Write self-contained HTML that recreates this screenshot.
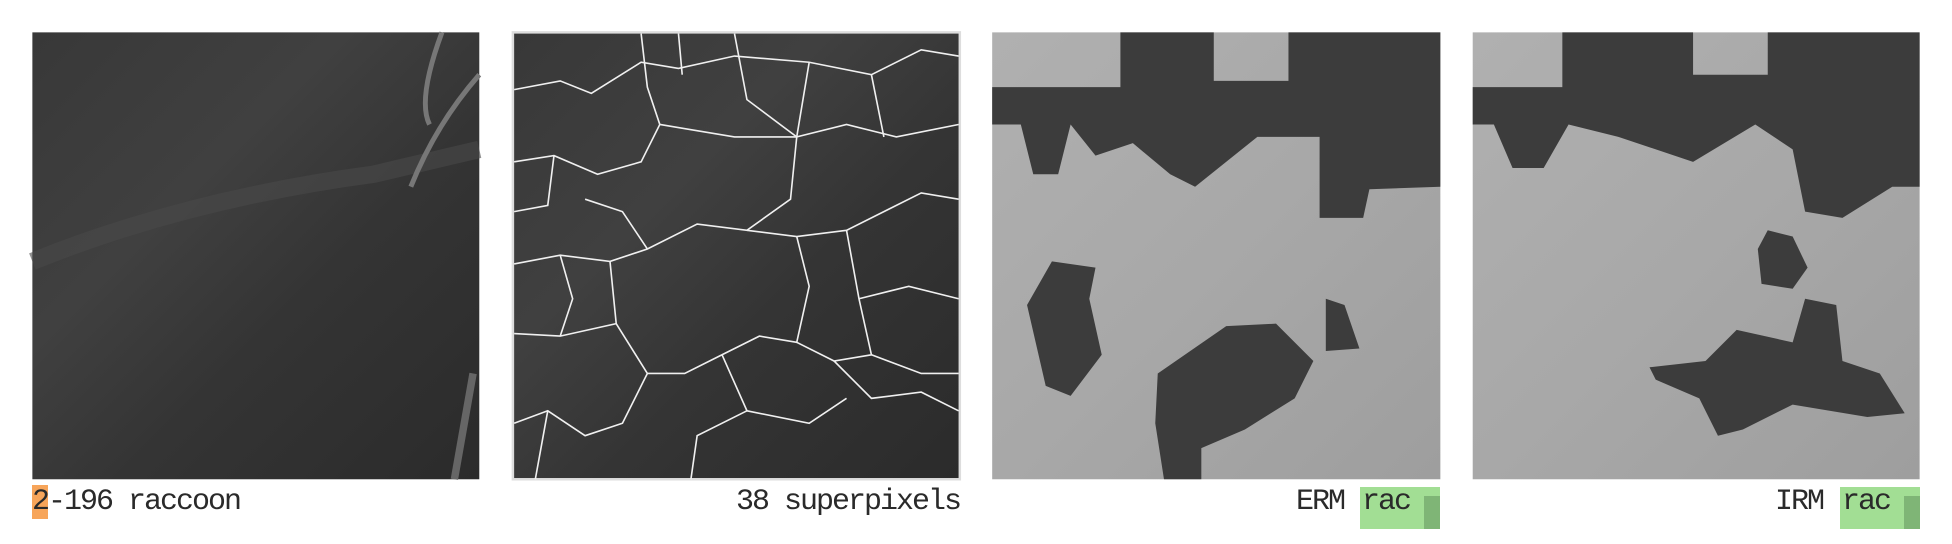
<!DOCTYPE html>
<html><head><meta charset="utf-8"><style>
html,body{margin:0;padding:0;background:#fff;width:1952px;height:544px;overflow:hidden}
#art{position:absolute;left:0;top:0;width:1952px;height:544px}
.lbl{position:absolute;top:480px;height:44px;line-height:44px;font-family:"Liberation Mono","DejaVu Sans Mono",monospace;font-size:30px;letter-spacing:-2px;color:#2a2a2a;white-space:pre}
</style></head><body>
<svg id="art" viewBox="0 0 1568 437" preserveAspectRatio="none">
<defs>
<linearGradient id="g1" x1="0" y1="0" x2="1" y2="1">
<stop offset="0" stop-color="#383838"/><stop offset="0.35" stop-color="#404040"/><stop offset="0.6" stop-color="#343434"/><stop offset="1" stop-color="#2b2b2b"/></linearGradient>
<linearGradient id="g2" x1="0" y1="0" x2="1" y2="1">
<stop offset="0" stop-color="#b0b0b0"/><stop offset="0.5" stop-color="#a8a8a8"/><stop offset="1" stop-color="#9e9e9e"/></linearGradient>
</defs>
<g>
<rect x="26" y="26" width="359" height="359" fill="url(#g1)"/>
<path d="M26 210 Q150 160 300 140 L385 120" stroke="#4a4a4a" stroke-width="14" fill="none" opacity="0.6"/>
<path d="M355 26 Q335 80 345 100 M385 60 Q350 100 330 150" stroke="#777" stroke-width="4" fill="none"/>
<path d="M380 300 L365 385" stroke="#666" stroke-width="6"/>
</g>
<g>
<rect x="411" y="25" width="361" height="361" fill="#ddd"/>
<rect x="413" y="27" width="357" height="357" fill="url(#g1)"/>
<g stroke="#f0f0f0" stroke-width="1.3" fill="none">
<path d="M413 72 L450 65 L475 75 L515 50 L545 55 L590 45 L650 50 L700 60 L740 40 L770 45"/>
<path d="M515 27 L520 70 L530 100 L515 130 L480 140 L445 125 L413 130"/>
<path d="M545 27 L548 60 M590 27 L600 80 L640 110 L680 100 L720 110 L770 100"/>
<path d="M530 100 L590 110 L640 110 M640 110 L635 160 L600 185 L560 180 L520 200 L490 210 L450 205 L413 212"/>
<path d="M600 185 L640 190 L680 185 L710 170 L740 155 L770 160"/>
<path d="M445 125 L440 165 L413 170 M490 210 L495 260 L450 270 L413 268"/>
<path d="M640 190 L650 230 L640 275 L610 270 L580 285 L550 300 L520 300 L495 260"/>
<path d="M680 185 L690 240 L700 285 L670 290 L640 275 M690 240 L730 230 L770 240"/>
<path d="M700 285 L740 300 L770 300 M670 290 L700 320 L740 315 L770 330"/>
<path d="M580 285 L600 330 L560 350 L555 385 M520 300 L500 340 L470 350 L440 330 L413 340"/>
<path d="M450 205 L460 240 L450 270 M440 330 L430 385 M600 330 L650 340 L680 320"/>
<path d="M700 60 L710 110 M470 160 L500 170 L520 200 M650 50 L640 110"/>
</g>
</g>
<g>
<rect x="797" y="26" width="360" height="359" fill="url(#g2)"/>
<g fill="#3c3c3c">
<path d="M797 70 L900 70 L900 26 L975 26 L975 65 L1035 65 L1035 26 L1157 26 L1157 150 L1100 152 L1095 175 L1060 175 L1060 110 L1010 110 L960 150 L940 140 L910 115 L880 125 L860 100 L850 140 L830 140 L820 100 L797 100Z"/>
<path d="M845 210 L880 215 L875 240 L885 285 L860 318 L840 310 L825 245Z"/>
<path d="M1065 240 L1080 245 L1092 280 L1065 282Z"/>
<path d="M930 300 L985 262 L1025 260 L1055 290 L1040 320 L1000 345 L965 360 L965 385 L935 385 L928 340Z"/>
</g>
</g>
<g>
<rect x="1183" y="26" width="359" height="359" fill="url(#g2)"/>
<g fill="#3c3c3c">
<path d="M1183 70 L1255 70 L1255 26 L1360 26 L1360 60 L1420 60 L1420 26 L1542 26 L1542 150 L1520 150 L1480 175 L1450 170 L1440 120 L1410 100 L1360 130 L1300 110 L1260 100 L1240 135 L1215 135 L1200 100 L1183 100Z"/>
<path d="M1420 185 L1440 190 L1452 215 L1440 232 L1415 228 L1412 200Z"/>
<path d="M1325 295 L1370 290 L1395 265 L1440 275 L1450 240 L1475 245 L1480 290 L1510 300 L1530 332 L1500 335 L1440 325 L1400 345 L1380 350 L1365 320 L1330 305Z"/>
</g>
</g>
</svg>
<div class="lbl" style="left:32px"><span style="background:#f7a55a">2</span>-196 raccoon</div>
<div class="lbl" style="right:992px;text-align:right">38 superpixels</div>
<div class="lbl" style="left:1264px;width:80px;text-align:right">ERM</div>
<div style="position:absolute;left:1360px;top:487px;width:80px;height:42px;background:#a2de94"><span class="lbl" style="position:absolute;left:2px;top:-7px">rac</span><div style="position:absolute;right:0;top:9px;width:16px;height:33px;background:#7fb576"></div></div>
<div class="lbl" style="left:1743px;width:80px;text-align:right">IRM</div>
<div style="position:absolute;left:1840px;top:487px;width:80px;height:42px;background:#a2de94"><span class="lbl" style="position:absolute;left:2px;top:-7px">rac</span><div style="position:absolute;right:0;top:9px;width:16px;height:33px;background:#7fb576"></div></div>
</body></html>
